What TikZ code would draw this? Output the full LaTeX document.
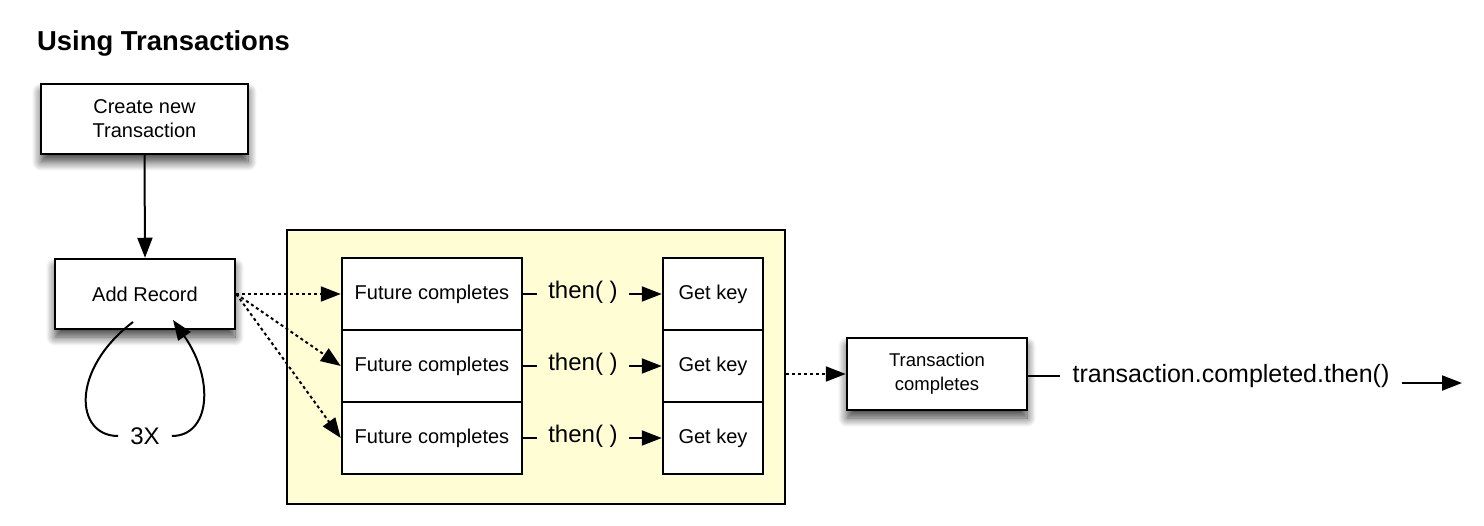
\documentclass[tikz,border=0pt]{standalone}
\usepackage{fontspec}
\setmainfont{Liberation Sans}
\usetikzlibrary{arrows.meta,shadows.blur}
\definecolor{grpyellow}{HTML}{FFFDD4}
\begin{document}
\begin{tikzpicture}[x=1pt,y=-1pt,
  every node/.style={inner sep=0pt},
  boxtext/.style={font=\fontsize{20}{24}\selectfont},
  stepbox/.style={draw, fill=white, line width=2.5pt, align=center, boxtext},
  shadowed/.style={blur shadow={shadow xshift=0pt, shadow yshift=-8pt, shadow blur radius=9pt, shadow blur steps=12, shadow opacity=75}},
  calltext/.style={font=\fontsize{24}{28}\selectfont, inner xsep=11pt},
  tip/.style={-{Triangle[length=20pt,width=15pt]}},
  conn/.style={line width=2pt},
  dots/.style={line width=2pt, dash pattern=on 3pt off 3pt}
]
\useasboundingbox (0,0) rectangle (1484,526);

\node[anchor=base west, font=\fontsize{27.4}{32}\selectfont\bfseries] (title) at (37,51) {Using Transactions};

% left column
\node[stepbox, shadowed, minimum width=207pt, minimum height=70pt] (create) at (144.5,119) {Create new\\Transaction};
\node[stepbox, shadowed, minimum width=180pt, minimum height=70pt] (add) at (145,294) {Add Record};
\draw[conn, tip] (create.south) -- (add.north);

% loop
\coordinate (ls) at (133,322);
\coordinate (le) at (173,320);
\node[font=\fontsize{24}{28}\selectfont, inner xsep=12pt] (times) at (145,436) {3X};
\draw[conn] (ls) .. controls (70,370) and (75,436) .. (times.west);
\draw[conn, tip] (times.east) .. controls (210,436) and (215,380) .. (le);

% group box
\node[draw, fill=grpyellow, line width=2.5pt, minimum width=498pt, minimum height=274pt] (grp) at (536,367) {};

\foreach \i/\y in {1/294, 2/366, 3/438} {
  \node[stepbox, minimum width=180pt, minimum height=72pt] (fut\i) at (432,\y) {Future completes};
  \node[stepbox, minimum width=100pt, minimum height=72pt] (key\i) at (713,\y) {Get key};
  \node[calltext] (then\i) at (583,\y-2) {then( )};
  \draw[conn] (fut\i.east) -- (then\i.west |- fut\i.east);
  \draw[conn, tip] (then\i.east |- key\i.west) -- (key\i.west);
}
% redraw the stacked boxes so shared edges stay crisp
\foreach \i/\y in {1/294, 2/366, 3/438} {
  \node[stepbox, minimum width=180pt, minimum height=72pt] at (432,\y) {Future completes};
  \node[stepbox, minimum width=100pt, minimum height=72pt] at (713,\y) {Get key};
}

\draw[dots, tip] (add.east) -- (fut1.west);
\draw[dots, tip] (add.east) -- (fut2.west);
\draw[dots, tip] (add.east) -- (fut3.west);

% transaction completes
\node[stepbox, shadowed, minimum width=180pt, minimum height=72pt, font=\fontsize{18.5}{24}\selectfont] (trans) at (937,374) {Transaction\\completes};
\draw[dots, tip] (grp.east |- trans.west) -- (trans.west);

\node[font=\fontsize{25}{30}\selectfont, inner xsep=12pt] (done) at (1231,376) {transaction.completed.then()};
\draw[conn] (trans.east |- done.west) -- (done.west);
\coordinate (out) at (1462,383);
\draw[conn, tip] (done.east |- out) -- (out);
\end{tikzpicture}
\end{document}
